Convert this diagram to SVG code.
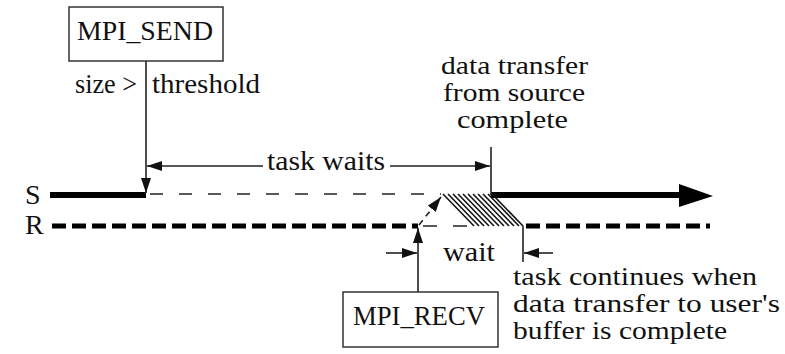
<svg xmlns="http://www.w3.org/2000/svg" width="785" height="354" viewBox="0 0 785 354">
<defs>
<style>
text{font-family:"Liberation Serif","Times New Roman",serif;font-size:28px;fill:#111}
text.ml{font-size:25px}
.box{fill:#fff;stroke:#333;stroke-width:1.5}
.ln{stroke:#222;stroke-width:1.6;fill:none}
.thin{stroke:#222;stroke-width:1.5;fill:none;stroke-dasharray:13 16}
.thick{stroke:#000;stroke-width:6;fill:none}
.thickdash{stroke:#000;stroke-width:5;fill:none;stroke-dasharray:14 6}
.hatch line{stroke:#111;stroke-width:1.6}
</style>
<marker id="ah" viewBox="0 0 15 10" refX="15" refY="5" markerWidth="15" markerHeight="10" markerUnits="userSpaceOnUse" orient="auto">
<path d="M0,0 L15,5 L0,10 z" fill="#111"/>
</marker>
</defs>
<rect width="785" height="354" fill="#fff"/>

<g id="timeline-S">
<text x="25" y="204">S</text>
<line class="thick" x1="50" y1="195" x2="146" y2="195"/>
<line class="thin" x1="150" y1="194" x2="441" y2="194"/>
<line class="thick" x1="491" y1="195" x2="682" y2="195"/>
<polygon points="679,184 713,196 679,207" fill="#000"/>
</g>

<g id="timeline-R">
<text x="25" y="234">R</text>
<line class="thickdash" x1="52" y1="226" x2="418" y2="226"/>
<line class="thin" x1="423" y1="226" x2="472" y2="226" style="stroke-dasharray:14 16"/>
<line class="thickdash" x1="526" y1="226" x2="710" y2="226"/>
</g>

<g id="transfer" class="hatch">
<line x1="443" y1="194" x2="474" y2="226"/>
<line x1="448" y1="194" x2="479" y2="226"/>
<line x1="453" y1="194" x2="484" y2="226"/>
<line x1="458" y1="194" x2="489" y2="226"/>
<line x1="463" y1="194" x2="494" y2="226"/>
<line x1="468" y1="194" x2="499" y2="226"/>
<line x1="473" y1="194" x2="504" y2="226"/>
<line x1="478" y1="194" x2="509" y2="226"/>
<line x1="483" y1="194" x2="514" y2="226"/>
<line x1="488" y1="194" x2="519" y2="226"/>
<line x1="492" y1="194" x2="523" y2="226"/>
</g>

<g id="node-mpi-send">
<rect class="box" x="69" y="7" width="154" height="54"/>
<text x="77" y="40" textLength="136" lengthAdjust="spacingAndGlyphs">MPI_SEND</text>
</g>

<g id="node-mpi-recv">
<rect class="box" x="343" y="292" width="155" height="55"/>
<text x="353" y="325" textLength="132" lengthAdjust="spacingAndGlyphs">MPI_RECV</text>
</g>

<g id="labels">
<text x="75" y="93" textLength="62" lengthAdjust="spacingAndGlyphs">size &gt;</text>
<text x="152" y="93" textLength="108" lengthAdjust="spacingAndGlyphs">threshold</text>
<text class="ml" x="441" y="74" textLength="147" lengthAdjust="spacingAndGlyphs">data transfer</text>
<text class="ml" x="443" y="101" textLength="142" lengthAdjust="spacingAndGlyphs">from source</text>
<text class="ml" x="457" y="128" textLength="111" lengthAdjust="spacingAndGlyphs">complete</text>
<text x="267" y="170" textLength="118" lengthAdjust="spacingAndGlyphs">task waits</text>
<text x="443" y="261" textLength="52" lengthAdjust="spacingAndGlyphs">wait</text>
<text class="ml" x="513" y="285" textLength="244" lengthAdjust="spacingAndGlyphs">task continues when</text>
<text class="ml" x="513" y="312" textLength="267" lengthAdjust="spacingAndGlyphs">data transfer to user's</text>
<text class="ml" x="513" y="339" textLength="214" lengthAdjust="spacingAndGlyphs">buffer is complete</text>
</g>

<g id="connectors">
<line class="ln" x1="146" y1="61" x2="146" y2="193" marker-end="url(#ah)"/>
<line class="ln" x1="263" y1="166" x2="147" y2="166" marker-end="url(#ah)"/>
<line class="ln" x1="390" y1="166" x2="490" y2="166" marker-end="url(#ah)"/>
<line class="ln" x1="491" y1="147" x2="491" y2="195"/>
<line class="ln" x1="418" y1="292" x2="418" y2="228" marker-end="url(#ah)"/>
<line class="ln" x1="419" y1="225" x2="441" y2="197" style="stroke-dasharray:6 5" marker-end="url(#ah)"/>
<line class="ln" x1="386" y1="253" x2="417" y2="253" marker-end="url(#ah)"/>
<line class="ln" x1="523" y1="226" x2="523" y2="262"/>
<line class="ln" x1="553" y1="253" x2="524" y2="253" marker-end="url(#ah)"/>
</g>
</svg>
